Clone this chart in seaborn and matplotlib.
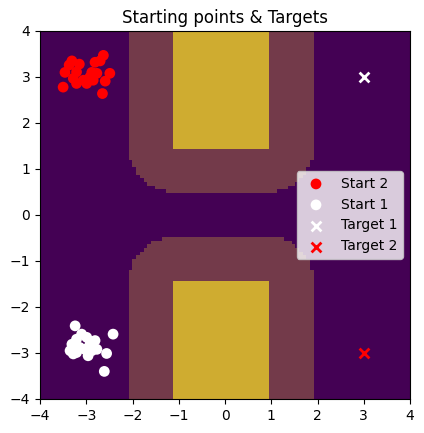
import numpy as np
import seaborn as sns
import matplotlib.pyplot as plt
import pandas as pd
from matplotlib.colors import ListedColormap

# obstacles (x0, x1, y0, y1) and safety margin around them
obstacles = [(-1.12, 0.96, 1.48, 4.0), (-1.12, 0.96, -4.0, -1.45)]
margin = 0.97
grid_n = 100

start2_x = [-2.63, -3.31, -3.15, -2.81, -2.70, -3.37, -3.46, -3.21, -2.88, -2.49,
            -3.28, -3.06, -2.85, -2.59, -3.21, -2.99, -3.50, -2.65, -2.92, -2.77]
start2_y = [3.47, 3.35, 3.28, 3.32, 3.35, 3.26, 3.10, 3.11, 3.10, 3.08,
            2.97, 2.93, 2.93, 2.91, 2.86, 2.86, 2.78, 2.64, 3.00, 3.08]

start1_x = [-3.24, -2.42, -3.10, -3.21, -2.99, -2.81, -3.31, -2.92, -3.35,
            -3.03, -2.77, -3.21, -2.56, -2.96, -3.28, -2.61, -2.88, -3.14]
start1_y = [-2.41, -2.59, -2.59, -2.70, -2.66, -2.73, -2.81, -2.81, -2.95,
            -2.92, -2.92, -2.99, -3.01, -3.06, -3.02, -3.40, -2.95, -2.88]

target1 = (3, 3)
target2 = (3, -3)

# occupancy grid: 0 free, 1 margin, 2 obstacle
xs = np.linspace(-4, 4, grid_n)
gx, gy = np.meshgrid(xs, xs)
grid = np.zeros_like(gx)
for x0, x1, y0, y1 in obstacles:
    dx = np.maximum(np.maximum(x0 - gx, gx - x1), 0)
    dy = np.maximum(np.maximum(y0 - gy, gy - y1), 0)
    dist = np.hypot(dx, dy)
    grid = np.maximum(grid, np.where(dist <= margin, 1, 0))
    grid = np.maximum(grid, np.where(dist == 0, 2, 0))

cmap = ListedColormap(["#440154", "#733a4a", "#cfac30"])

fig = plt.figure(figsize=(4.24, 4.33), dpi=100)
ax = fig.add_axes([40 / 424, 34 / 433, 370 / 424, 368 / 433])
ax.imshow(grid, extent=[-4, 4, -4, 4], origin="lower", cmap=cmap,
          vmin=0, vmax=2, interpolation="nearest", aspect="auto")

s2 = pd.DataFrame({"x": start2_x, "y": start2_y})
s1 = pd.DataFrame({"x": start1_x, "y": start1_y})
sns.scatterplot(data=s2, x="x", y="y", color="red", edgecolor="none", s=60,
                label="Start 2", ax=ax)
sns.scatterplot(data=s1, x="x", y="y", color="white", edgecolor="none", s=60,
                label="Start 1", ax=ax)
sns.scatterplot(x=[target1[0]], y=[target1[1]], color="white", marker="x",
                s=50, linewidth=2, label="Target 1", ax=ax)
sns.scatterplot(x=[target2[0]], y=[target2[1]], color="red", marker="x",
                s=50, linewidth=2, label="Target 2", ax=ax)

ax.set(xlim=(-4, 4), ylim=(-4, 4), xlabel="", ylabel="",
       title="Starting points & Targets")
ax.set_xticks(range(-4, 5))
ax.set_yticks(range(-4, 5))
ax.legend(loc="center right")

fig.savefig("out.png", dpi=100)
